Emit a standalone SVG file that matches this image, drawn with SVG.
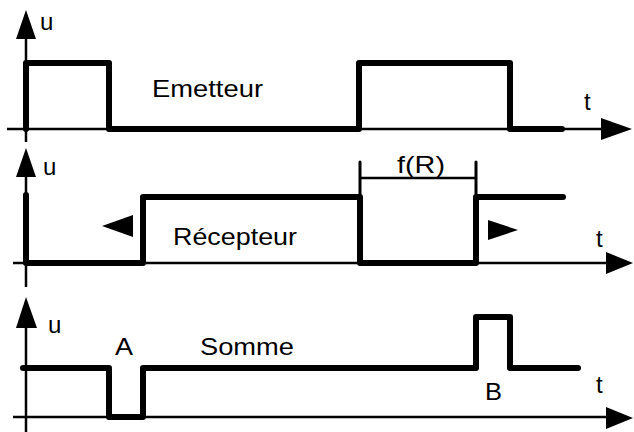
<svg xmlns="http://www.w3.org/2000/svg" width="634" height="432" viewBox="0 0 634 432">
  <style>
    .axis { stroke: #000; stroke-width: 2.5; fill: none; }
    .sig { stroke: #000; stroke-width: 6; fill: none; stroke-linejoin: round; stroke-linecap: round; }
    .dim { stroke: #000; stroke-width: 2.5; fill: none; }
    .tick { stroke: #000; stroke-width: 3; fill: none; stroke-linecap: round; }
    .head { fill: #000; }
    text { font-family: "Liberation Sans", Arial, sans-serif; font-size: 24px; fill: #000; }
  </style>

  <rect width="634" height="432" fill="#fff"/>

  <!-- Emitter signal -->
  <g id="emetteur">
    <line class="axis" x1="26" y1="36" x2="26" y2="142"/>
    <polygon class="head" points="26,10 16,39 36,39"/>
    <line class="axis" x1="7" y1="129" x2="604" y2="129"/>
    <polygon class="head" points="632,129 601,118 601,140"/>
    <path class="sig" d="M26,129 V63 H109 V129 H359 V63 H510 V129 H562"/>
    <text x="40" y="30">u</text>
    <text x="152" y="97" textLength="111" lengthAdjust="spacingAndGlyphs">Emetteur</text>
    <text x="584" y="110">t</text>
  </g>

  <!-- Receiver signal -->
  <g id="recepteur">
    <line class="axis" x1="26" y1="174" x2="26" y2="287"/>
    <polygon class="head" points="26,148 16,177 36,177"/>
    <line class="axis" x1="13" y1="263" x2="608" y2="263"/>
    <polygon class="head" points="633,263 606,252 606,274"/>
    <path class="sig" d="M26,195 V263 H143 V197 H360 V263 H476 V197 H563"/>
    <polygon class="head" points="102,226 133,215 133,237"/>
    <polygon class="head" points="518,230 488,220 488,240"/>
    <text x="43" y="175">u</text>
    <text x="173" y="245" textLength="124" lengthAdjust="spacingAndGlyphs">Récepteur</text>
    <text x="596" y="247">t</text>
  </g>

  <!-- f(R) interval marker -->
  <g id="fR">
    <line class="tick" x1="360" y1="162" x2="360" y2="197"/>
    <line class="tick" x1="476" y1="162" x2="476" y2="197"/>
    <line class="dim" x1="360" y1="178" x2="476" y2="178"/>
    <text x="397" y="173" textLength="48" lengthAdjust="spacingAndGlyphs">f(R)</text>
  </g>

  <!-- Sum signal -->
  <g id="somme">
    <line class="axis" x1="26" y1="325" x2="26" y2="432"/>
    <polygon class="head" points="26,297 16,328 37,328"/>
    <line class="axis" x1="13" y1="417" x2="608" y2="417"/>
    <polygon class="head" points="633,418 606,407 606,429"/>
    <path class="sig" d="M23,368 H109 V417 H143 V368 H476 V317 H510 V368 H578"/>
    <text x="48" y="333">u</text>
    <text x="115" y="355" textLength="18" lengthAdjust="spacingAndGlyphs">A</text>
    <text x="200" y="355" textLength="94" lengthAdjust="spacingAndGlyphs">Somme</text>
    <text x="485" y="400" textLength="17" lengthAdjust="spacingAndGlyphs">B</text>
    <text x="596" y="393">t</text>
  </g>
</svg>
